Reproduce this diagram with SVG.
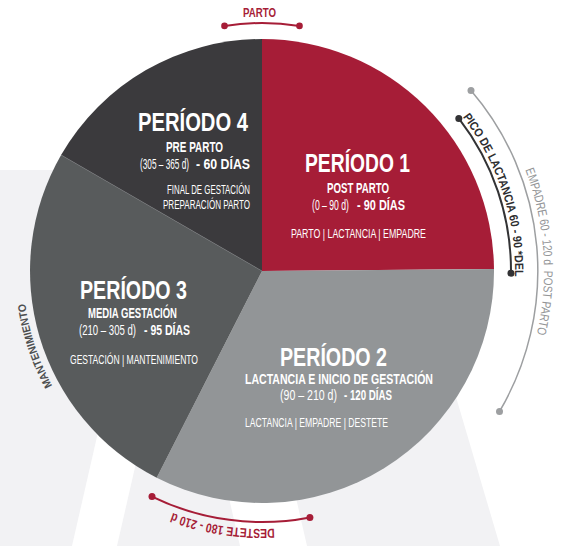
<svg xmlns="http://www.w3.org/2000/svg" width="566" height="546" viewBox="0 0 566 546">
<style>
text{font-family:"Liberation Sans Narrow","Liberation Sans",Arial,sans-serif;fill:#fff}
.t{font-size:26px;font-weight:bold}
.s{font-size:14px;font-weight:bold}
.r{font-size:14px}
.b{font-size:12.5px}
.red{fill:#a61d37}
.arcr{fill:none;stroke:#a61d37;stroke-width:2}
.dotr{fill:#a61d37}
</style>
<defs>
<path id="pPico" d="M462.7,117 A253,253 0 0 1 511.2,314.9"/>
<path id="pEmp" d="M525.3,169.9 A282,282 0 0 1 527,367.4"/>
<path id="pMant" d="M52.4,385.8 A239,239 0 0 1 23,271"/>
<path id="pDest" d="M274.6,528.7 A258,258 0 0 1 133,494.4"/>
</defs>
<rect width="566" height="546" fill="#fff"/>
<g id="background">
<polygon points="0,170 389,170 500,546 0,546" fill="#f2f2f4"/>
<polygon points="158,170 203,170 117,546 72,546" fill="#fff"/>
<polygon points="154,170 221,170 307,546 240,546" fill="#fff"/>
</g>
<g id="period-4">
<path d="M262,271 L61.1,155 A232,232 0 0 1 262,39 Z" fill="#3b3a3d"/>
<text class="t" x="138" y="131" textLength="110" lengthAdjust="spacingAndGlyphs">PERÍODO 4</text>
<text class="s" x="166" y="152" textLength="57" lengthAdjust="spacingAndGlyphs">PRE PARTO</text>
<text class="r" x="140" y="169" textLength="49" lengthAdjust="spacingAndGlyphs">(305 – 365 d)</text>
<text class="s" x="196" y="169" textLength="54" lengthAdjust="spacingAndGlyphs">- 60 DÍAS</text>
<text class="b" x="167" y="194" textLength="83" lengthAdjust="spacingAndGlyphs">FINAL DE GESTACIÓN</text>
<text class="b" x="163" y="209" textLength="87" lengthAdjust="spacingAndGlyphs">PREPARACIÓN PARTO</text>
</g>
<g id="period-1">
<path d="M262,271 L262,39 A232,232 0 0 1 494,269 Z" fill="#a61d37"/>
<text class="t" x="305" y="172" textLength="105" lengthAdjust="spacingAndGlyphs">PERÍODO 1</text>
<text class="s" x="327" y="193" textLength="62" lengthAdjust="spacingAndGlyphs">POST PARTO</text>
<text class="r" x="312" y="210" textLength="37" lengthAdjust="spacingAndGlyphs">(0 – 90 d)</text>
<text class="s" x="357" y="210" textLength="48" lengthAdjust="spacingAndGlyphs">- 90 DÍAS</text>
<text class="b" x="291" y="238" textLength="135" lengthAdjust="spacingAndGlyphs">PARTO | LACTANCIA | EMPADRE</text>
</g>
<g id="period-2">
<path d="M262,271 L494,269 A232,232 0 0 1 156.7,477.7 Z" fill="#929597"/>
<text class="t" x="280" y="366" textLength="107" lengthAdjust="spacingAndGlyphs">PERÍODO 2</text>
<text class="s" x="245" y="384" textLength="188" lengthAdjust="spacingAndGlyphs">LACTANCIA E INICIO DE GESTACIÓN</text>
<text class="r" x="280" y="400" textLength="57" lengthAdjust="spacingAndGlyphs">(90 – 210 d)</text>
<text class="s" x="344" y="400" textLength="48" lengthAdjust="spacingAndGlyphs">- 120 DÍAS</text>
<text class="b" x="245" y="427" textLength="143" lengthAdjust="spacingAndGlyphs">LACTANCIA | EMPADRE | DESTETE</text>
</g>
<g id="period-3">
<path d="M262,271 L156.7,477.7 A232,232 0 0 1 61.1,155 Z" fill="#585b5c"/>
<line x1="262" y1="271" x2="61.1" y2="155" stroke="#6e7072" stroke-width="0.7"/>
<text class="t" x="80" y="299" textLength="107" lengthAdjust="spacingAndGlyphs">PERÍODO 3</text>
<text class="s" x="88" y="318" textLength="89" lengthAdjust="spacingAndGlyphs">MEDIA GESTACIÓN</text>
<text class="r" x="79" y="335" textLength="57" lengthAdjust="spacingAndGlyphs">(210 – 305 d)</text>
<text class="s" x="144" y="335" textLength="46" lengthAdjust="spacingAndGlyphs">- 95 DÍAS</text>
<text class="b" x="70" y="364" textLength="128" lengthAdjust="spacingAndGlyphs">GESTACIÓN | MANTENIMIENTO</text>
</g>
<g id="connectors">
<g id="parto">
<path class="arcr" d="M224.5,25.9 A248,248 0 0 1 299.5,25.9"/>
<circle class="dotr" cx="224.5" cy="25.9" r="3.3"/>
<circle class="dotr" cx="299.5" cy="25.9" r="3.3"/>
<text class="red" x="243" y="17" font-size="13" font-weight="bold" textLength="33" lengthAdjust="spacingAndGlyphs">PARTO</text>
</g>
<g id="pico-lactancia">
<path d="M458.8,118.4 A249,249 0 0 1 511,273.2" fill="none" stroke="#333335" stroke-width="2"/>
<circle cx="458.8" cy="118.4" r="3.5" fill="#333335"/>
<circle cx="511" cy="273.2" r="3.5" fill="#333335"/>
<text font-size="12" font-weight="bold" style="fill:#2e2e30"><textPath href="#pPico" textLength="171" lengthAdjust="spacingAndGlyphs">PICO DE LACTANCIA 60 - 90 *DEL</textPath></text>
</g>
<g id="empadre">
<path d="M471,90.5 A277,277 0 0 1 499.5,411.5" fill="none" stroke="#9d9fa1" stroke-width="1.5"/>
<circle cx="471" cy="90.5" r="3.5" fill="#9d9fa1"/>
<circle cx="499.5" cy="411.5" r="3.5" fill="#9d9fa1"/>
<text font-size="12.5" style="fill:#939597" xml:space="preserve"><textPath href="#pEmp" textLength="167" lengthAdjust="spacingAndGlyphs">EMPADRE 60 - 120 d  POST PARTO</textPath></text>
</g>
<g id="destete">
<path class="arcr" d="M309.9,517.4 A251,251 0 0 1 152,496.6"/>
<circle class="dotr" cx="309.9" cy="517.4" r="3.5"/>
<circle class="dotr" cx="152" cy="496.6" r="3.5"/>
<text class="red" font-size="13" font-weight="bold"><textPath href="#pDest" textLength="104" lengthAdjust="spacingAndGlyphs">DESTETE 180 - 210 d</textPath></text>
</g>
<g id="mantenimiento">
<text font-size="11" font-weight="bold" style="fill:#4d4f50"><textPath href="#pMant" textLength="87" lengthAdjust="spacingAndGlyphs">MANTENIMIENTO</textPath></text>
</g>
</g>
</svg>
